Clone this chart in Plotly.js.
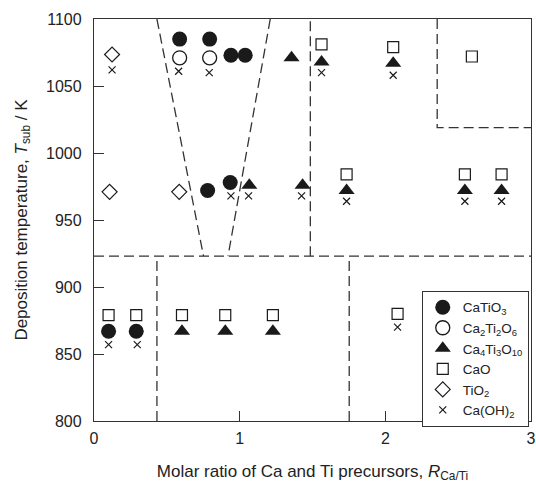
<!DOCTYPE html>
<html>
<head>
<meta charset="utf-8">
<script src="https://cdn.plot.ly/plotly-3.0.1.min.js"></script>
<style>html,body{margin:0;padding:0;background:#fff;}#chart{width:536px;height:486px;}</style>
</head>
<body>
<div id="chart"></div>
<script>
// Phase data (x: molar ratio R_Ca/Ti, y: deposition temperature / K)
const caTiO3_x = [0.588, 0.794, 0.94, 1.038, 0.78, 0.935, 0.10, 0.29];
const caTiO3_y = [1085, 1085, 1073, 1073, 972, 978, 867, 867];

const ca2Ti2O6_x = [0.588, 0.794];
const ca2Ti2O6_y = [1071, 1071];

const ca4Ti3O10_x = [1.356, 1.066, 1.432, 1.562, 2.054, 1.734, 2.546, 2.798, 0.604, 0.901, 1.228];
const ca4Ti3O10_y = [1071, 976, 976, 1068, 1067, 972, 972, 972, 867, 867, 867];

const caO_x = [1.562, 2.054, 2.594, 1.734, 2.546, 2.798, 0.10, 0.29, 0.604, 0.901, 1.228, 2.084];
const caO_y = [1081, 1079, 1072, 984, 984, 984, 879, 879, 879, 879, 879, 880];

const tiO2_x = [0.124, 0.107, 0.585];
const tiO2_y = [1073.5, 971, 971];

const caOH2_x = [0.124, 0.581, 0.791, 0.94, 1.061, 1.425, 1.562, 2.054, 1.734, 2.546, 2.798, 0.10, 0.297, 2.084];
const caOH2_y = [1062, 1061, 1060, 968, 968, 968, 1060, 1058, 964, 964, 964, 857, 857, 870];

// Phase boundaries (dashed), segments separated by null
const boundary_x = [0, 3, null, 0.432, 0.752, null, 1.21, 0.92, null, 1.485, 1.485, null,
                    0.432, 0.432, null, 1.752, 1.752, null, 2.356, 2.356, 3];
const boundary_y = [923, 923, null, 1100, 923, null, 1100, 923, null, 923, 1100, null,
                    800, 923, null, 800, 923, null, 1100, 1019, 1019];

const legendNames = ['CaTiO<sub>3</sub>', 'Ca<sub>2</sub>Ti<sub>2</sub>O<sub>6</sub>',
  'Ca<sub>4</sub>Ti<sub>3</sub>O<sub>10</sub>', 'CaO', 'TiO<sub>2</sub>', 'Ca(OH)<sub>2</sub>'];

const xTicks = [0, 1, 2, 3];
const yTicks = [800, 850, 900, 950, 1000, 1050, 1100];

const ink = '#1a1a1a';
const traces = [
  {x: boundary_x, y: boundary_y, mode: 'lines', showlegend: false, hoverinfo: 'skip',
   line: {color: '#333', width: 1.3, dash: '10px,5px'}, connectgaps: false},
  {x: caTiO3_x, y: caTiO3_y, mode: 'markers', name: legendNames[0],
   marker: {symbol: 'circle', size: 15, color: ink, line: {width: 0}}},
  {x: ca2Ti2O6_x, y: ca2Ti2O6_y, mode: 'markers', name: legendNames[1],
   marker: {symbol: 'circle-open', size: 14, color: ink, line: {width: 1.3}}},
  {x: ca4Ti3O10_x, y: ca4Ti3O10_y, mode: 'markers', name: legendNames[2],
   marker: {symbol: 'triangle-up', size: 14, color: ink, line: {width: 0}}},
  {x: caO_x, y: caO_y, mode: 'markers', name: legendNames[3],
   marker: {symbol: 'square-open', size: 11, color: ink, line: {width: 1.2}}},
  {x: tiO2_x, y: tiO2_y, mode: 'markers', name: legendNames[4],
   marker: {symbol: 'diamond-open', size: 11.5, color: ink, line: {width: 1.2}}},
  {x: caOH2_x, y: caOH2_y, mode: 'markers', name: legendNames[5],
   marker: {symbol: 'x-thin-open', size: 7, color: ink, line: {width: 1.2}}}
];

const fontFam = 'Liberation Sans, Arial, Helvetica, sans-serif';
const layout = {
  width: 536, height: 486,
  margin: {l: 94, r: 5, t: 19, b: 65},
  paper_bgcolor: '#fff', plot_bgcolor: '#fff',
  font: {family: fontFam, size: 16, color: '#222'},
  xaxis: {
    range: [0, 3], tickvals: xTicks, ticktext: xTicks.map(String),
    ticks: 'inside', ticklen: 10, tickcolor: '#333', tickwidth: 1,
    ticklabelstandoff: 3,
    showline: true, linecolor: '#333', linewidth: 1.2, mirror: true,
    showgrid: false, zeroline: false,
    title: {text: 'Molar ratio of Ca and Ti precursors, <i>R</i><sub>Ca/Ti</sub>', font: {size: 17}, standoff: 18}
  },
  yaxis: {
    range: [800, 1100], tickvals: yTicks, ticktext: yTicks.map(String),
    ticks: 'inside', ticklen: 10, tickcolor: '#333', tickwidth: 1,
    ticklabelstandoff: 8,
    showline: true, linecolor: '#333', linewidth: 1.2, mirror: true,
    showgrid: false, zeroline: false,
    title: {text: 'Deposition temperature, <i>T</i><sub>sub</sub> / K', font: {size: 17}, standoff: 14}
  },
  legend: {
    x: 0.75, y: 0.3236, xanchor: 'left', yanchor: 'top',
    bordercolor: '#333', borderwidth: 1, bgcolor: '#fff',
    font: {size: 13.5, color: '#222'}, itemwidth: 30, tracegroupgap: 0
  },
  showlegend: true
};

Plotly.newPlot('chart', traces, layout, {staticPlot: true, displayModeBar: false});
</script>
</body>
</html>
